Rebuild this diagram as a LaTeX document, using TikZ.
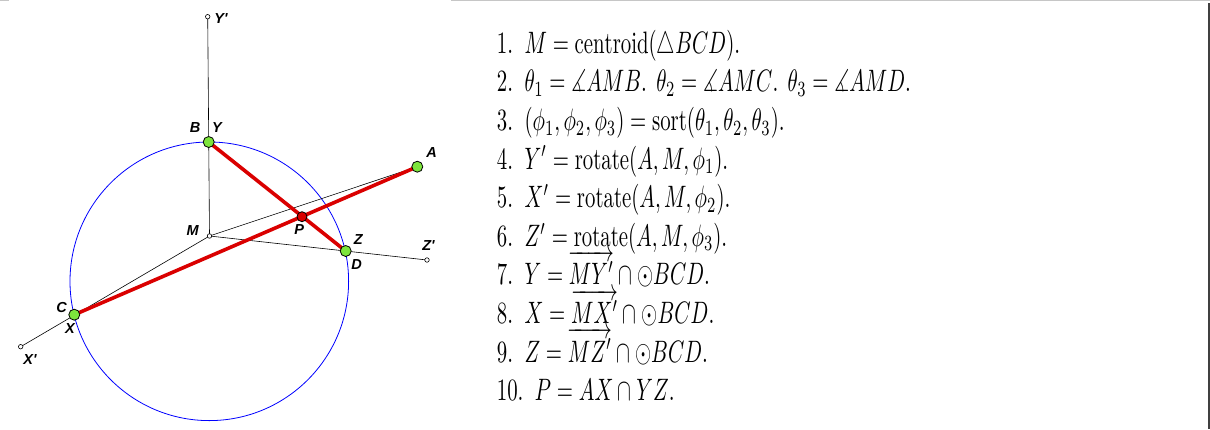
\documentclass[tikz,border=0pt]{standalone}
\usepackage{amsmath,amssymb}
\usepackage{graphicx}
\usepackage{fontspec}
\newfontfamily\ptfont{Liberation Sans}
\usetikzlibrary{positioning}
\definecolor{ptgreen}{RGB}{125,228,60}
\definecolor{ptred}{RGB}{218,0,0}
\tikzset{
    ptlabel/.style={font=\ptfont\bfseries\itshape\fontsize{14.5}{14.5}\selectfont, inner sep=0pt},
    freept/.style={circle, draw=black, fill=ptgreen, minimum size=11pt, inner sep=0pt, line width=0.8pt},
    meetpt/.style={circle, draw=black, fill=ptred, minimum size=10pt, inner sep=0pt, line width=0.8pt},
    hollowpt/.style={circle, draw=black, fill=white, minimum size=4.5pt, inner sep=0pt, line width=0.6pt},
    thinline/.style={black, line width=0.6pt},
    redseg/.style={ptred, line width=3.6pt},
    steptext/.style={font=\normalsize, inner sep=0pt, anchor=base west},
}
\newcommand{\bigstep}[1]{\scalebox{2.08}[3.1]{#1}}

\begin{document}
\begin{tikzpicture}[x=1pt, y=-1pt]
    \useasboundingbox (0,0) rectangle (1210,429);
    % frame of the text panel
    \draw[gray!45, line width=1pt] (0,0.5) -- (9,0.5);
    \draw[gray!45, line width=1pt] (451,0.5) -- (1210,0.5);
    \draw[black!75, line width=2pt] (1209,3) -- (1209,429);

    % positions
    \coordinate (ctr) at (209.3,281.3);
    \coordinate (b) at (208.7,142);
    \coordinate (c) at (74.3,314.7);
    \coordinate (d) at (345.7,251);
    \coordinate (a) at (417.3,166.7);
    \coordinate (m) at (209.5,236);
    \coordinate (p) at (302,216.7);
    \coordinate (yp) at (207.7,16.7);
    \coordinate (xp) at (20.7,346.7);
    \coordinate (zp) at (427,260);

    % circle and lines
    \draw[blue, line width=0.8pt] (ctr) circle[radius=139.3];
    \draw[thinline] (m) -- (yp);
    \draw[thinline] (m) -- (xp);
    \draw[thinline] (m) -- (zp);
    \draw[thinline] (m) -- (a);
    \draw[redseg] (b) -- (d);
    \draw[redseg] (c) -- (a);

    % points
    \node[hollowpt] (Yp) at (yp) {};
    \node[hollowpt] (Xp) at (xp) {};
    \node[hollowpt] (Zp) at (zp) {};
    \node[hollowpt] (M) at (m) {};
    \node[freept] (B) at (b) {};
    \node[freept] (C) at (c) {};
    \node[freept] (D) at (d) {};
    \node[freept] (A) at (a) {};
    \node[meetpt] (P) at (p) {};

    % labels
    \node[ptlabel] (labYp) at (221,19) {Y'};
    \node[ptlabel] (labB) at (195,128) {B};
    \node[ptlabel] (labY) at (217,128) {Y};
    \node[ptlabel] (labA) at (431.7,153) {A};
    \node[ptlabel] (labP) at (299.3,230) {P};
    \node[ptlabel] (labM) at (192.7,231) {M};
    \node[ptlabel] (labZ) at (358.3,240) {Z};
    \node[ptlabel] (labD) at (356.7,265) {D};
    \node[ptlabel] (labZp) at (428.5,246) {Z'};
    \node[ptlabel] (labC) at (61.7,308) {C};
    \node[ptlabel] (labX) at (70,329) {X};
    \node[ptlabel] (labXp) at (30,360) {X'};

    % construction steps
    \foreach \i/\txt in {
        1/{$M=\mathrm{centroid}(\triangle BCD)$.},
        2/{$\theta_1=\measuredangle AMB$. $\theta_2=\measuredangle AMC$. $\theta_3=\measuredangle AMD$.},
        3/{$(\phi_1,\phi_2,\phi_3)=\mathrm{sort}(\theta_1,\theta_2,\theta_3)$.},
        4/{$Y'=\mathrm{rotate}(A,M,\phi_1)$.},
        5/{$X'=\mathrm{rotate}(A,M,\phi_2)$.},
        6/{$Z'=\mathrm{rotate}(A,M,\phi_3)$.},
        7/{$Y=\overrightarrow{MY'}\cap\odot BCD$.},
        8/{$X=\overrightarrow{MX'}\cap\odot BCD$.},
        9/{$Z=\overrightarrow{MZ'}\cap\odot BCD$.},
        10/{$P=AX\cap YZ$.}}
        \node[steptext] (step\i) at (496.7,{53.3+(\i-1)*38.6}) {\bigstep{\i.\hspace{5.5pt}\txt}};
\end{tikzpicture}
\end{document}
